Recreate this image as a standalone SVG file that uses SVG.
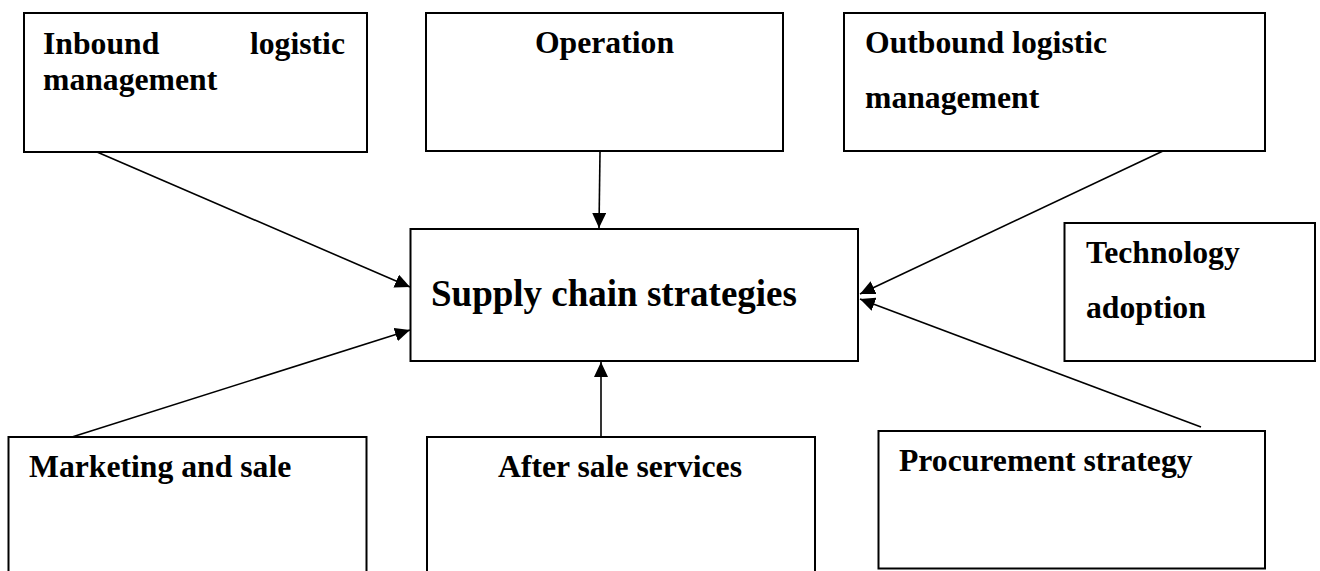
<svg xmlns="http://www.w3.org/2000/svg" width="1320" height="571" viewBox="0 0 1320 571">
<style>
.box{fill:#fff;stroke:#000;stroke-width:2}
.t{font-family:"Liberation Serif","Times New Roman",serif;font-weight:bold;font-size:31.7px;fill:#000}
.main{font-size:37px}
.c{fill:none;stroke:#000;stroke-width:1.6}
</style>
<defs>
<marker id="ah" viewBox="0 0 15 14" refX="15" refY="7" markerWidth="15" markerHeight="14" markerUnits="userSpaceOnUse" orient="auto">
<path d="M0,0 L15,7 L0,14 z" fill="#000"/>
</marker>
</defs>
<rect width="1320" height="571" fill="#fff"/>
<g id="inbound">
<rect class="box" x="24" y="13" width="343" height="139"/>
<text class="t" y="54"><tspan x="43">Inbound</tspan><tspan x="345" text-anchor="end">logistic</tspan><tspan x="43" y="90">management</tspan></text>
</g>
<g id="operation">
<rect class="box" x="426" y="13" width="357" height="138"/>
<text class="t" x="604.5" y="53" text-anchor="middle">Operation</text>
</g>
<g id="outbound">
<rect class="box" x="844" y="13" width="421" height="138"/>
<text class="t" x="865" y="53">Outbound logistic<tspan x="865" y="108">management</tspan></text>
</g>
<g id="main">
<rect class="box" x="410.5" y="229" width="447.5" height="132"/>
<text class="t main" x="431" y="306">Supply chain strategies</text>
</g>
<g id="technology">
<rect class="box" x="1064.5" y="223" width="250.5" height="138"/>
<text class="t" x="1086" y="263">Technology<tspan x="1086" y="318">adoption</tspan></text>
</g>
<g id="marketing">
<rect class="box" x="8.5" y="437" width="358" height="150"/>
<text class="t" x="29" y="477">Marketing and sale</text>
</g>
<g id="aftersale">
<rect class="box" x="427" y="437" width="388" height="150"/>
<text class="t" x="620" y="477" text-anchor="middle">After sale services</text>
</g>
<g id="procurement">
<rect class="box" x="878.5" y="431" width="386.5" height="137.5"/>
<text class="t" x="899" y="471">Procurement strategy</text>
</g>
<g id="connectors">
<line class="c" x1="97" y1="152" x2="410" y2="287" marker-end="url(#ah)"/>
<line class="c" x1="600" y1="152" x2="599" y2="228" marker-end="url(#ah)"/>
<line class="c" x1="1163" y1="151" x2="860" y2="294" marker-end="url(#ah)"/>
<line class="c" x1="1201" y1="427" x2="860" y2="299" marker-end="url(#ah)"/>
<line class="c" x1="72" y1="437" x2="410" y2="330" marker-end="url(#ah)"/>
<line class="c" x1="601" y1="437" x2="601" y2="362" marker-end="url(#ah)"/>
</g>
</svg>
